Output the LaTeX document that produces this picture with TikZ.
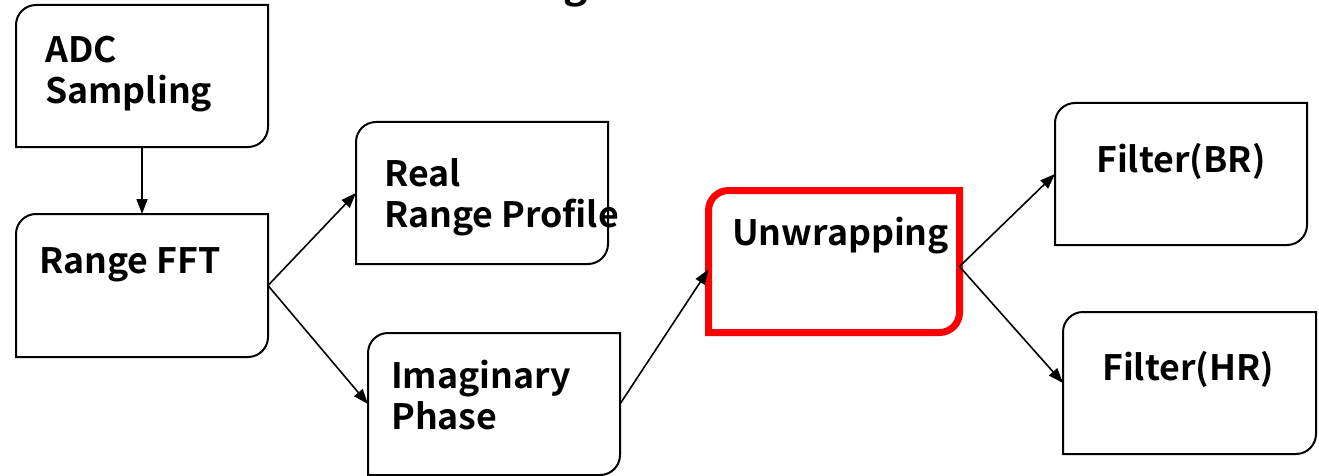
\documentclass[tikz,border=0pt]{standalone}
\usepackage{fontspec}
\setmainfont{Noto Sans CJK JP}[BoldFont={Noto Sans CJK JP Bold}, BoldFeatures={FakeStretch=1.02}]
\usetikzlibrary{arrows.meta,calc}
\begin{document}
\begin{tikzpicture}[x=1pt,y=-1pt,
  area/.style={inner sep=0pt, outer sep=0pt, minimum height=142pt, draw=none},
  lbl/.style={inner sep=0pt, anchor=base west, align=left, font=\fontsize{35}{41}\selectfont\bfseries},
  boxline/.style={draw=black, line width=2pt},
  redline/.style={draw=red, line width=7pt},
  arr/.style={draw=black, line width=1.6pt, -{Triangle[length=15pt,width=11pt]}}]
\useasboundingbox (0,0) rectangle (1319,476);

% box areas
\node[area, minimum width=252pt] (adc) at (142,76) {};
\node[area, minimum width=252pt, minimum height=143pt] (fft) at (142,285.5) {};
\node[area, minimum width=252pt] (real) at (482,193) {};
\node[area, minimum width=252pt] (imag) at (494,404) {};
\node[area, minimum width=251pt] (unwrap) at (834,261.5) {};
\node[area, minimum width=252pt] (br) at (1181,174) {};
\node[area, minimum width=253pt] (hr) at (1189.5,383) {};

% outlines: rounded top-left and bottom-right corners
\foreach \n/\s in {adc/boxline,fft/boxline,real/boxline,imag/boxline,br/boxline,hr/boxline,unwrap/redline}{
  \draw[\s] (\n.west) [rounded corners=20pt] -- (\n.north west) -- (\n.north)
     [sharp corners] -- (\n.north east) -- (\n.east)
     [rounded corners=20pt] -- (\n.south east) -- (\n.south)
     [sharp corners] -- (\n.south west) -- cycle;
}

% labels (multi-line nodes placed at the baseline of their last line)
\node[lbl] (adct) at (45,104) {ADC\\Sampling};
\node[lbl] (fftt) at (39,273) {Range FFT};
\node[lbl] (realt) at (384,227) {Real\\Range Profile};
\node[lbl] (imagt) at (391,429) {Imaginary\\Phase};
\node[lbl] (unwrapt) at (732,245) {Unwrapping};
\node[lbl] (brt) at (1096,172) {Filter(BR)};
\node[lbl] (hrt) at (1102,380) {Filter(HR)};

% cut-off title fragment
\node[inner sep=0pt, anchor=base, font=\fontsize{40}{48}\selectfont\bfseries] (title) at (576,-2) {g};

% connectors
\draw[arr] (adc.south) -- (fft.north);
\draw[arr] (fft.east) -- (real.west);
\draw[arr] (fft.east) -- (imag.west);
\draw[arr] (imag.east) -- ($(unwrap.west)+(0,8)$);
\draw[arr] ($(unwrap.east)+(0,5)$) -- (br.west);
\draw[arr] ($(unwrap.east)+(0,5)$) -- (hr.west);
\end{tikzpicture}
\end{document}
